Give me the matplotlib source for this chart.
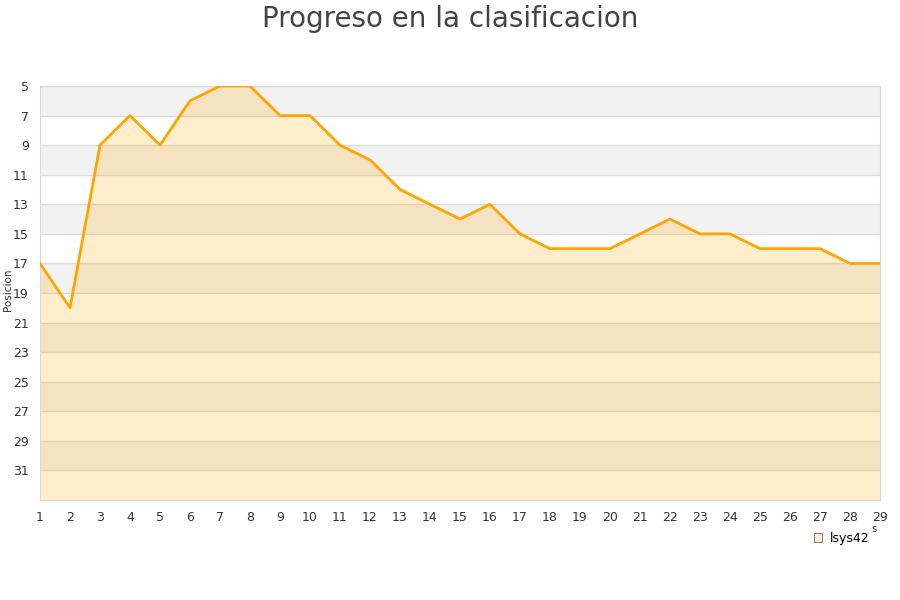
import matplotlib.pyplot as plt
from matplotlib.patches import Patch

jornadas = list(range(1, 30))
posicion = [17, 20, 9, 7, 9, 6, 5, 5, 7, 7, 9, 10, 12, 13, 14, 13, 15, 16, 16, 16,
            15, 14, 15, 15, 16, 16, 16, 17, 17]
y_ticks = list(range(5, 32, 2))
equipo = "lsys42"

fig = plt.figure(figsize=(9, 6), dpi=100)
ax = fig.add_axes([40 / 900, 100 / 600, 840 / 900, 414 / 600])

# alternating bands
for i, y0 in enumerate(range(5, 33, 2)):
    if i % 2 == 0:
        ax.axhspan(y0, y0 + 2, color="#f2f2f2", zorder=0, lw=0)
for y in y_ticks:
    ax.axhline(y, color="#dcdcdc", lw=1, zorder=1)

ax.fill_between(jornadas, posicion, 33, color="#ffa500", alpha=0.2, lw=0, zorder=2)
ax.plot(jornadas, posicion, color="#ffa500", lw=2, zorder=3)

ax.set_xlim(1, 29)
ax.set_ylim(33, 5)
ax.set_xticks(jornadas)
ax.set_yticks(y_ticks)
ax.tick_params(axis="x", length=0, labelsize=9, colors="#333333", pad=8)
ax.tick_params(axis="y", length=0, labelsize=9, colors="#333333", pad=8)
for s in ax.spines.values():
    s.set_color("#d8d8d8")

fig.text(8 / 900, 1 - 290 / 600, "Posicion", rotation=90, fontsize=7.5,
         color="#333333", ha="center", va="center")
fig.text(0.5, 0.968, "Progreso en la clasificacion", ha="center", va="center",
         fontsize=20, color="#444444")
fig.text(0.971, 0.113, "s", fontsize=7, color="#333333", ha="center")

leg = fig.legend(handles=[Patch(facecolor="#ffedcc", edgecolor="#888888", lw=0.8, label=equipo)],
                 loc="center", bbox_to_anchor=(0.935, 0.103), frameon=False,
                 fontsize=9, handlelength=0.7, handleheight=0.7, handletextpad=0.6)

fig.savefig("out.png", dpi=100)
